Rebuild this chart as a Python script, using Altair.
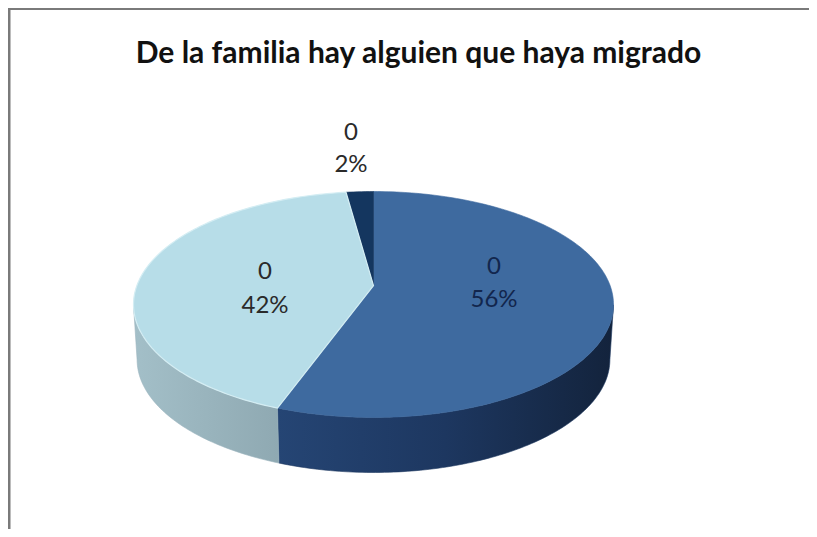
import math
import altair as alt
import pandas as pd

# Values
categories = ["0", "0", "0"]
shares = [56, 42, 2]
share_labels = ["56%", "42%", "2%"]
title_text = "De la familia hay alguien que haya migrado"
# label spots, in px
label_px_x = [494, 265, 351]
label_top_px_y = [267, 272, 133]
label_pct_px_y = [300, 306, 165]

W, H = 801, 521
CX, CY, RX, RY = 373.5 - 8, 304.5 - 8, 240, 113  # ellipse in plot px
TILT = -0.09     # perspective of the tilted disc
APEX_Y = -0.168  # pie centre sits above the ellipse centre
DEPTH = 55 / 113
BOTTOM_SHRINK = 0.985

x_scale = alt.Scale(domain=[(0 - CX) / RX, (W - CX) / RX], range=[0, W], nice=False, zero=False)
y_scale = alt.Scale(domain=[(0 - CY) / RY, (H - CY) / RY], range=[0, H], nice=False, zero=False)


def project(theta):
    """Clockwise share angle (degrees from top) -> tilted ellipse coordinates."""
    t = math.radians(theta)
    sx, sy = math.sin(t), -math.cos(t)
    d = 1 + TILT * sy
    return sx * math.sqrt(1 - TILT ** 2) / d, (sy + TILT) / d


def sweep(a, b):
    n = max(2, int(abs(b - a)))
    return [a + (b - a) * i / n for i in range(n + 1)]


def poly(points):
    return pd.DataFrame({"x": [p[0] for p in points], "y": [p[1] for p in points],
                         "o": list(range(len(points)))})


def shape(points, fill, stroke=None, sw=0.6):
    return alt.Chart(poly(points)).mark_line(
        fill=fill, filled=True, stroke=stroke or "transparent", strokeWidth=sw, interpolate="linear-closed",
    ).encode(
        x=alt.X("x:Q", scale=x_scale, axis=None),
        y=alt.Y("y:Q", scale=y_scale, axis=None),
        order="o:Q",
    )


def grad(stops):
    return alt.LinearGradient(
        gradient="linear", x1=0, y1=0, x2=1, y2=0,
        stops=[alt.GradientStop(color=c, offset=o) for c, o in stops],
    )


total = sum(shares)
a0 = 0
a1 = a0 + 360 * shares[0] / total
a2 = a1 + 360 * shares[1] / total
a3 = 360
apex = (0, APEX_Y)


def wall(a, b):
    top = [project(t) for t in sweep(a, b) if project(t)[1] >= -0.01]
    low = [(p[0] * BOTTOM_SHRINK, p[1] + DEPTH) for p in reversed(top)]
    return top + low


def face(a, b):
    return [apex] + [project(t) for t in sweep(a, b)]


layers = [
    shape(wall(a0, a1), grad([("#254574", 0), ("#1d3760", 0.5), ("#13233c", 1)]), "#1d3760"),
    shape(wall(a1, a2), grad([("#a3bfc8", 0), ("#8fa9b2", 1)]), "#9ab4bd"),
    shape(face(a0, a1), "#3e6a9f", "#3e6a9f"),
    shape(face(a2, a3), "#14365f", "#14365f"),
    shape(face(a1, a2), "#b7dde8", "#d4edf3", 1.2),
]

# Page frame
frame = pd.DataFrame({"v": [0]})
layers.append(alt.Chart(frame).mark_rule(color="#7a7a7a", strokeWidth=3).encode(
    x=alt.value(1), y=alt.value(0), y2=alt.value(H)))
layers.append(alt.Chart(frame).mark_rule(color="#7a7a7a", strokeWidth=3).encode(
    x=alt.value(0), x2=alt.value(W), y=alt.value(0.5)))

# Labels
labels = pd.DataFrame({
    "cat": categories, "pct": share_labels,
    "x": [(v - 8 - CX) / RX for v in label_px_x],
    "y1": [(v - 8 - CY) / RY for v in label_top_px_y],
    "y2": [(v - 8 - CY) / RY for v in label_pct_px_y],
    "color": ["#12264d", "#2a2a2a", "#2a2a2a"],
})
for field, ycol in (("cat", "y1"), ("pct", "y2")):
    layers.append(alt.Chart(labels).mark_text(font="Lato", fontSize=24, align="center", baseline="middle").encode(
        x=alt.X("x:Q", scale=x_scale, axis=None),
        y=alt.Y(f"{ycol}:Q", scale=y_scale, axis=None),
        text=f"{field}:N",
        color=alt.Color("color:N", scale=None),
    ))

layers.append(alt.Chart(pd.DataFrame({"t": [title_text]})).mark_text(
    font="Lato", fontSize=30, fontWeight="bold", color="#111111", align="center", baseline="middle",
).encode(x=alt.value(418.5 - 8), y=alt.value(54 - 8), text="t:N"))

chart = alt.layer(*layers).properties(
    width=W, height=H, padding=0, autosize=alt.AutoSizeParams(type="none"), background="white"
).configure_view(stroke=None)

chart.save("out.html", embed_options={"renderer": "svg", "actions": False})
